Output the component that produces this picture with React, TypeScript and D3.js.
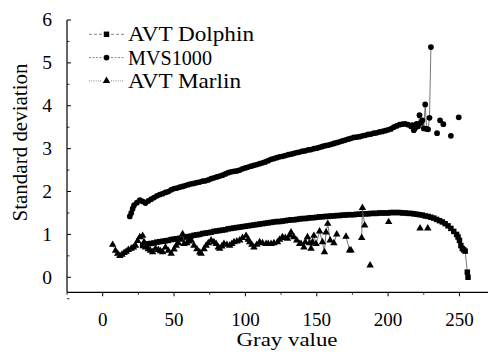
import React from 'react';
import * as d3 from 'd3';

// AVT Dolphin (squares): [gray value, standard deviation]
const dolphin: [number, number][] = [
  [28, 0.74], [30, 0.77], [32, 0.78], [34, 0.79], [36, 0.8], [38, 0.82], [40, 0.83], [42, 0.84], [44, 0.85],
  [46, 0.86], [48, 0.88], [50, 0.89], [52, 0.9], [54, 0.91], [56, 0.92], [58, 0.94], [60, 0.95], [62, 0.96],
  [64, 0.98], [66, 0.99], [68, 1.0], [70, 1.02], [72, 1.03], [74, 1.04], [76, 1.05], [78, 1.07], [80, 1.08],
  [82, 1.09], [84, 1.1], [86, 1.11], [88, 1.13], [90, 1.14], [92, 1.15], [94, 1.16], [96, 1.17], [98, 1.18],
  [100, 1.19], [102, 1.2], [104, 1.21], [106, 1.22], [108, 1.23], [110, 1.24], [112, 1.25], [114, 1.26],
  [116, 1.27], [118, 1.28], [120, 1.29], [122, 1.3], [124, 1.3], [126, 1.31], [128, 1.32], [130, 1.33],
  [132, 1.34], [134, 1.34], [136, 1.35], [138, 1.36], [140, 1.37], [142, 1.37], [144, 1.38], [146, 1.39],
  [148, 1.39], [150, 1.4], [152, 1.41], [154, 1.41], [156, 1.42], [158, 1.42], [160, 1.43], [162, 1.43],
  [164, 1.44], [166, 1.44], [168, 1.45], [170, 1.45], [172, 1.46], [174, 1.46], [176, 1.46], [178, 1.47],
  [180, 1.47], [182, 1.48], [184, 1.48], [186, 1.48], [188, 1.49], [190, 1.49], [192, 1.49], [194, 1.5],
  [196, 1.5], [198, 1.5], [200, 1.5], [202, 1.51], [204, 1.51], [206, 1.51], [208, 1.51], [210, 1.5],
  [212, 1.5], [214, 1.49], [216, 1.49], [218, 1.48], [220, 1.47], [222, 1.46], [224, 1.45], [226, 1.43],
  [228, 1.42], [230, 1.4], [232, 1.38], [234, 1.35], [236, 1.32], [238, 1.29], [240, 1.25], [242, 1.2],
  [244, 1.14], [246, 1.07], [248, 1.0], [249, 0.94], [250, 0.86], [251, 0.74], [252, 0.67], [253, 0.64],
  [254, 0.61], [255.5, 0.12], [256, 0.0],
];

// MVS1000 (circles)
const mvs: [number, number][] = [
  [19, 1.42], [20, 1.5], [21, 1.6], [22, 1.68], [24, 1.74], [26, 1.8], [28, 1.77], [30, 1.73], [32, 1.78],
  [34, 1.82], [36, 1.86], [38, 1.9], [40, 1.93], [42, 1.95], [44, 1.98], [46, 2.0], [48, 2.04], [50, 2.07],
  [52, 2.08], [54, 2.1], [56, 2.12], [58, 2.14], [60, 2.16], [62, 2.18], [64, 2.19], [66, 2.21], [68, 2.22],
  [70, 2.24], [72, 2.25], [74, 2.27], [76, 2.3], [78, 2.32], [80, 2.34], [82, 2.36], [84, 2.38], [86, 2.41],
  [88, 2.44], [90, 2.46], [92, 2.47], [94, 2.48], [96, 2.5], [98, 2.53], [100, 2.55], [102, 2.57], [104, 2.59],
  [106, 2.61], [108, 2.63], [110, 2.65], [112, 2.67], [114, 2.69], [116, 2.72], [118, 2.75], [120, 2.77],
  [122, 2.79], [124, 2.81], [126, 2.82], [128, 2.84], [130, 2.86], [132, 2.87], [134, 2.89], [136, 2.91],
  [138, 2.92], [140, 2.94], [142, 2.95], [144, 2.97], [146, 2.98], [148, 3.0], [150, 3.01], [152, 3.03],
  [154, 3.05], [156, 3.07], [158, 3.08], [160, 3.1], [162, 3.12], [164, 3.14], [166, 3.16], [168, 3.18],
  [170, 3.2], [172, 3.22], [174, 3.24], [176, 3.26], [178, 3.27], [180, 3.28], [182, 3.3], [184, 3.31],
  [186, 3.33], [188, 3.34], [190, 3.36], [192, 3.37], [194, 3.39], [196, 3.4], [198, 3.42], [200, 3.44],
  [202, 3.46], [204, 3.5], [206, 3.53], [208, 3.56], [210, 3.57], [212, 3.58], [214, 3.56], [216, 3.52],
  [217, 3.55], [218, 3.43], [219, 3.48], [220, 3.58], [221, 3.52], [222, 3.78], [223, 3.6], [224, 3.66],
  [225, 3.47], [226, 4.03], [227, 3.46], [228, 3.45], [229, 3.72], [230, 5.37],
  [234.3, 3.36], [236.4, 3.66], [238.7, 3.57], [244, 3.3], [249.5, 3.73],
];

// AVT Marlin (triangles)
const marlin: [number, number][] = [
  [7, 0.76], [9, 0.62], [10.5, 0.55], [12, 0.5], [13.5, 0.53], [15, 0.57], [16.5, 0.6], [18, 0.64], [20, 0.67],
  [21.5, 0.7], [23, 0.74], [24.5, 0.85], [26, 0.94], [28, 0.97], [29, 0.82], [30, 0.7], [32, 0.66], [33.5, 0.62],
  [35, 0.59], [37, 0.67], [39, 0.64], [40.5, 0.61], [42, 0.59], [44, 0.7], [46, 0.62], [48, 0.55], [50, 0.65],
  [51.5, 0.74], [53, 0.8], [54.5, 0.88], [56, 1.01], [57, 0.78], [59, 0.8], [60.5, 0.84], [62, 0.86], [64, 0.74],
  [66, 0.66], [68, 0.58], [69, 0.55], [71, 0.66], [72.5, 0.74], [74, 0.8], [76, 0.86], [78, 0.82], [79.5, 0.78],
  [81, 0.7], [82, 0.67], [83.5, 0.72], [85, 0.78], [87, 0.76], [89, 0.74], [90.5, 0.78], [92, 0.82], [94, 0.84],
  [96, 0.86], [98, 0.92], [100.5, 0.97], [102, 0.88], [103, 0.82], [104.5, 0.76], [106, 0.7], [108, 0.76],
  [110, 0.82], [112, 0.8], [114.5, 0.78], [116, 0.78], [118, 0.78], [120, 0.8], [122.5, 0.82], [124, 0.88],
  [126, 0.94], [128, 0.92], [129.5, 0.9], [131, 0.98], [132, 1.05], [134, 0.94], [136, 0.86], [138, 0.78],
  [139, 0.78], [141, 0.7], [142, 0.82], [143.5, 0.94], [145, 0.8], [146, 0.67], [147, 0.82], [148, 0.97],
  [149.5, 0.78], [152, 1.07], [154, 0.82], [155.4, 0.59], [156.5, 1.05], [157.7, 1.25], [159.4, 0.86],
  [162, 0.8], [164, 1.0], [170.5, 0.95], [173, 0.63], [174, 0.63], [181.5, 0.92], [182, 1.62], [183.6, 1.21],
  [187.4, 0.28], [200.4, 1.29], [222.4, 1.14], [227.8, 1.14],
];

const xTicks = [0, 50, 100, 150, 200, 250];
const xMinor = [-25, 25, 75, 125, 175, 225];
const yTicks = [0, 1, 2, 3, 4, 5, 6];
const yMinor = [-0.5, 0.5, 1.5, 2.5, 3.5, 4.5, 5.5];
const legendLabels = ['AVT Dolphin', 'MVS1000', 'AVT Marlin'];

const FONT = '"Liberation Serif", "Times New Roman", serif';

function segments(data: [number, number][], maxGap: number) {
  const out: [number, number][][] = [];
  let cur: [number, number][] = [];
  data.forEach((d, i) => {
    if (i > 0 && d[0] - data[i - 1][0] > maxGap) {
      out.push(cur);
      cur = [];
    }
    cur.push(d);
  });
  if (cur.length) out.push(cur);
  return out.filter((s) => s.length > 1);
}

export default function App() {
  const W = 495;
  const H = 356;
  const x = d3.scaleLinear().domain([-25, 270]).range([67, 488]);
  const y = d3.scaleLinear().domain([-0.35, 6]).range([292.3, 20]);
  const line = d3
    .line<[number, number]>()
    .x((d) => x(d[0]))
    .y((d) => y(d[1]));

  const sq = d3.symbol().type(d3.symbolSquare).size(30)()!;
  const ci = d3.symbol().type(d3.symbolCircle).size(26)()!;
  const tr = d3.symbol().type(d3.symbolTriangle).size(24)()!;

  const series = [
    { data: dolphin, gap: 2.1, sym: sq, dash: '3,2' },
    { data: mvs, gap: 1.6, sym: ci, dash: '2,1.5' },
    { data: marlin, gap: 2.6, sym: tr, dash: '1,1.2' },
  ];

  const [x0, x1] = x.range();
  const yB = y.range()[0];
  const yT = y.range()[1];

  return (
    <svg
      width={W}
      height={H}
      style={{ position: 'absolute', left: 0, top: 0, background: '#fff' }}
      fontFamily={FONT}
    >
      <rect width={W} height={H} fill="#fff" />
      {/* data */}
      {series.map((s, si) => (
        <g key={si}>
          {segments(s.data, s.gap).map((seg, k) => (
            <path key={k} d={line(seg)!} fill="none" stroke="#555" strokeWidth={0.8} />
          ))}
          {s.data.map((d, k) => (
            <path key={k} d={s.sym} transform={`translate(${x(d[0])},${y(d[1])})`} fill="#000" />
          ))}
        </g>
      ))}

      {/* axes */}
      <line x1={x0} x2={x0} y1={yT} y2={yB} stroke="#000" strokeWidth={1.2} />
      <line x1={x0} x2={x1} y1={yB} y2={yB} stroke="#000" strokeWidth={1.2} />
      {yTicks.map((t) => (
        <g key={t}>
          <line x1={x0} x2={x0 + 4} y1={y(t)} y2={y(t)} stroke="#000" strokeWidth={1} />
          <text x={52} y={y(t)} dy="0.33em" textAnchor="end" fontSize={19.5}>
            {t}
          </text>
        </g>
      ))}
      {yMinor.map((t) => (
        <line key={t} x1={x0} x2={x0 + 2.5} y1={y(t)} y2={y(t)} stroke="#000" strokeWidth={0.8} />
      ))}
      {xTicks.map((t) => (
        <g key={t}>
          <line x1={x(t)} x2={x(t)} y1={yB} y2={yB + 4} stroke="#000" strokeWidth={1} />
          <text x={x(t)} y={325.5} textAnchor="middle" fontSize={19}>
            {t}
          </text>
        </g>
      ))}
      {xMinor.map((t) => (
        <line key={t} x1={x(t)} x2={x(t)} y1={yB} y2={yB + 2.5} stroke="#000" strokeWidth={0.8} />
      ))}

      <text x={287} y={345.5} textAnchor="middle" fontSize={19} textLength={101} lengthAdjust="spacingAndGlyphs">
        Gray value
      </text>
      <text
        transform="translate(27,142.5) rotate(-90)"
        textAnchor="middle"
        fontSize={20.5}
        textLength={158}
        lengthAdjust="spacingAndGlyphs"
      >
        Standard deviation
      </text>

      {/* legend */}
      {legendLabels.map((lab, i) => {
        const cy = 34.3 + i * 23.3;
        const s = series[i];
        const natural = [126, 84, 113][i];
        return (
          <g key={lab}>
            <line x1={89} x2={102} y1={cy} y2={cy} stroke="#777" strokeWidth={0.9} strokeDasharray={s.dash} />
            <line x1={111} x2={124} y1={cy} y2={cy} stroke="#777" strokeWidth={0.9} strokeDasharray={s.dash} />
            <path d={s.sym} transform={`translate(106.5,${cy})`} fill="#000" />
            <text
              x={128}
              y={cy}
              dy="0.34em"
              fontSize={21}
              textLength={natural}
              lengthAdjust="spacingAndGlyphs"
            >
              {lab}
            </text>
          </g>
        );
      })}
    </svg>
  );
}
